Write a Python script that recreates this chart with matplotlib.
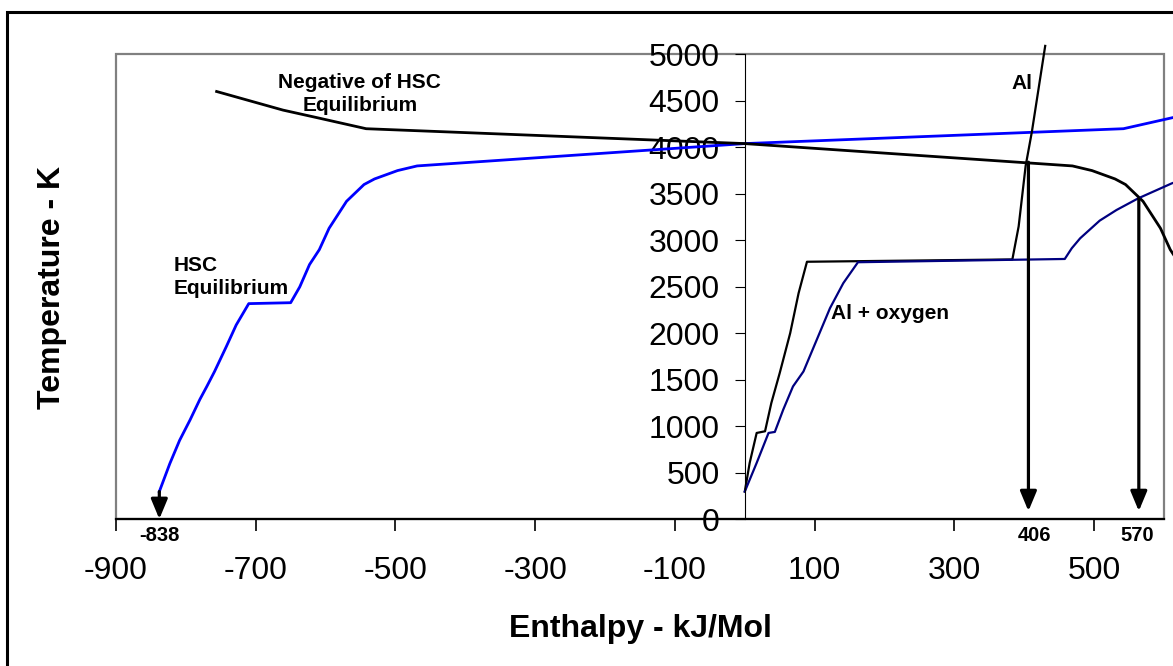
import matplotlib.pyplot as plt
from matplotlib.patches import Rectangle

plt.rcParams["font.family"] = ["Liberation Sans", "DejaVu Sans"]
plt.rcParams["axes.unicode_minus"] = False

# HSC equilibrium, enthalpy (kJ/mol) vs temperature (K)
hsc_h = [-838, -823, -809, -794, -780, -770, -759, -742, -728, -710, -650, -637,
         -623, -609, -595, -570, -545, -530, -497, -469, 0, 542, 613, 661, 756]
hsc_t = [300, 600, 850, 1070, 1290, 1430, 1590, 1860, 2090, 2320, 2330, 2500,
         2740, 2900, 3130, 3420, 3600, 3660, 3750, 3800, 4040, 4200, 4320, 4400, 4600]

# Al heating curve
al_h = [0, 7, 17, 29, 38, 50, 65, 77, 89, 383, 392, 402, 411, 430]
al_t = [300, 608, 930, 948, 1252, 1574, 2003, 2432, 2770, 2795, 3150, 3800, 4170, 5090]

# Al + oxygen heating curve
alox_h = [0, 17, 34, 43, 55, 69, 84, 98, 122, 141, 162, 458, 468, 480, 508, 532, 563, 611, 625]
alox_t = [300, 608, 930, 941, 1180, 1430, 1591, 1842, 2272, 2540, 2765, 2800, 2915,
          3022, 3212, 3326, 3451, 3612, 3650]

# marked enthalpies
mark_h = [-838, 406, 564]
mark_top = [300, 3840, 3452]
mark_tip = [5, 90, 90]
mark_text = ["-838", "406", "570"]
mark_text_x = [-838, 414, 561]

xticks = list(range(-900, 501, 200))
yticks = list(range(0, 5001, 500))

fig = plt.figure(figsize=(11.73, 6.66), dpi=100)
ax = fig.add_axes([0.0989, 0.2200, 0.8934, 0.6985])
ax.set_xlim(-900, 600)
ax.set_ylim(0, 5000)

# outer chart border (cropped on right and bottom)
fig.patches.append(Rectangle((7 / 1173, -0.2), 1.5, 1.2 - 12.3 / 666, transform=fig.transFigure,
                             fill=False, edgecolor="black", lw=2.2))

ax.add_patch(Rectangle((0, 0), 1, 1, transform=ax.transAxes, fill=False,
                       edgecolor="#808080", lw=1.6, zorder=0.5, clip_on=False))

ax.spines["top"].set_visible(False)
ax.spines["right"].set_visible(False)
ax.spines["left"].set_position(("data", 0))
ax.spines["left"].set_linewidth(0.8)
ax.spines["bottom"].set_linewidth(1.6)
ax.spines["bottom"].set_zorder(3)

ax.set_xticks(xticks)
ax.set_yticks(yticks)
ax.tick_params(axis="x", direction="out", length=8.6, width=1.2, pad=18, labelsize=23)
ax.tick_params(axis="y", direction="out", length=7.2, width=0.8, pad=11, labelsize=23)

ax.plot(hsc_h, hsc_t, color="#0000FF", lw=2.0, clip_on=False)
ax.plot([-h for h in hsc_h], hsc_t, color="black", lw=2.0, clip_on=False)
ax.plot(al_h, al_t, color="black", lw=1.6, clip_on=False)
ax.plot(alox_h, alox_t, color="#000080", lw=1.6, clip_on=False)

for x, top, tip in zip(mark_h, mark_top, mark_tip):
    ax.annotate("", xy=(x, tip), xytext=(x, top),
                arrowprops=dict(arrowstyle="-|>,head_length=0.6,head_width=0.25",
                                color="black", lw=2.3, shrinkA=0, shrinkB=0,
                                mutation_scale=20))
for x, s in zip(mark_text_x, mark_text):
    ax.text(x, -170, s, ha="center", va="center", fontsize=14.5, fontweight="bold")

ax.text(-551, 4574, "Negative of HSC\nEquilibrium", ha="center", va="center",
        fontsize=15, fontweight="bold", linespacing=1.3)
ax.text(-818, 2610, "HSC\nEquilibrium", ha="left", va="center",
        fontsize=15, fontweight="bold", linespacing=1.25)
ax.text(124, 2216, "Al + oxygen", ha="left", va="center", fontsize=15, fontweight="bold")
ax.text(397, 4681, "Al", ha="center", va="center", fontsize=15, fontweight="bold")

fig.text(640 / 1173, 1 - 629 / 666, "Enthalpy - kJ/Mol", ha="center", va="center",
         fontsize=23, fontweight="bold")
fig.text(52 / 1173, 1 - 287 / 666, "Temperature - K", ha="center", va="center",
         rotation=90, fontsize=23, fontweight="bold")

fig.savefig("out.png", dpi=100)
